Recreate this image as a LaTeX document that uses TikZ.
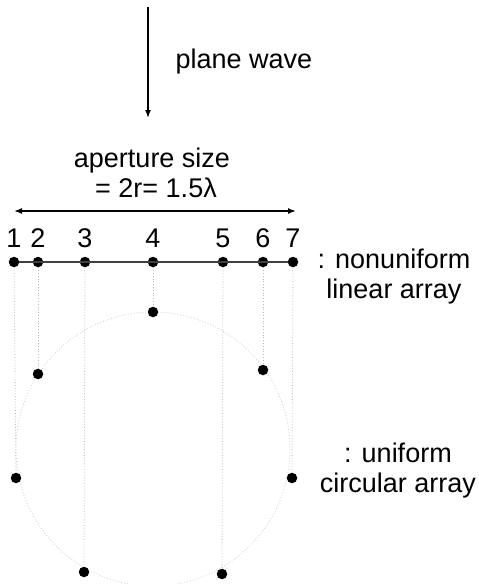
\documentclass[tikz,border=0pt]{standalone}
\usepackage{fontspec}
\setmainfont{Liberation Sans}
\usetikzlibrary{arrows.meta}
\begin{document}
\begin{tikzpicture}[x={(1pt,0)},y={(0,-1pt)},
  lbl/.style={inner sep=0pt,align=center,font=\fontsize{27}{30}\selectfont},
  num/.style={inner sep=0pt,font=\fontsize{27}{30}\selectfont},
  dot/.style={circle,fill=black,inner sep=0pt,minimum size=10.5pt},
  guide/.style={gray!55,dotted,line width=0.8pt},
  arr/.style={line width=1.5pt,-{Latex[length=8pt,width=6pt]}},
  darr/.style={line width=1.5pt,{Latex[length=8pt,width=6pt]}-{Latex[length=8pt,width=6pt]}}]
\useasboundingbox (0,0) rectangle (479,584);
% plane wave
\coordinate (wtop) at (148,7);
\coordinate (wbot) at (148,118);
\draw[arr] (wtop) -- (wbot);
\node[lbl] (pw) at (244,62) {plane wave};
% aperture
\node[lbl] (ap) at (152,173) {aperture size\\\hspace*{8pt}= 2r= 1.5λ};
\coordinate (al) at (14,211);
\coordinate (ar) at (296,211);
\draw[darr] (al) -- (ar);
% circle
\draw[gray!35,dotted,line width=0.9pt] (153,449) circle[radius=137];
% linear dots
\foreach \i/\x in {1/14,2/38,3/85,4/153,5/223,6/263,7/293}{
  \node[num] (n\i) at (\x,238) {\i};
  \node[dot] (l\i) at (\x,262) {};
}
% circular dots
\node[dot] (c1) at (16,478) {};
\node[dot] (c2) at (38,374) {};
\node[dot] (c3) at (84,572) {};
\node[dot] (c4) at (153,312) {};
\node[dot] (c5) at (222,574) {};
\node[dot] (c6) at (263,370) {};
\node[dot] (c7) at (292,478) {};
% array line
\draw[line width=2pt,black!75] (l1) -- (l7);
% projection guides
\foreach \i in {1,...,7}{
  \draw[guide] (l\i) -- (c\i);
}
% labels
\node[lbl] (lin) at (394,277) {: nonuniform\\linear array};
\node[lbl] (circ) at (398,471) {: uniform\\circular array};
\end{tikzpicture}
\end{document}
